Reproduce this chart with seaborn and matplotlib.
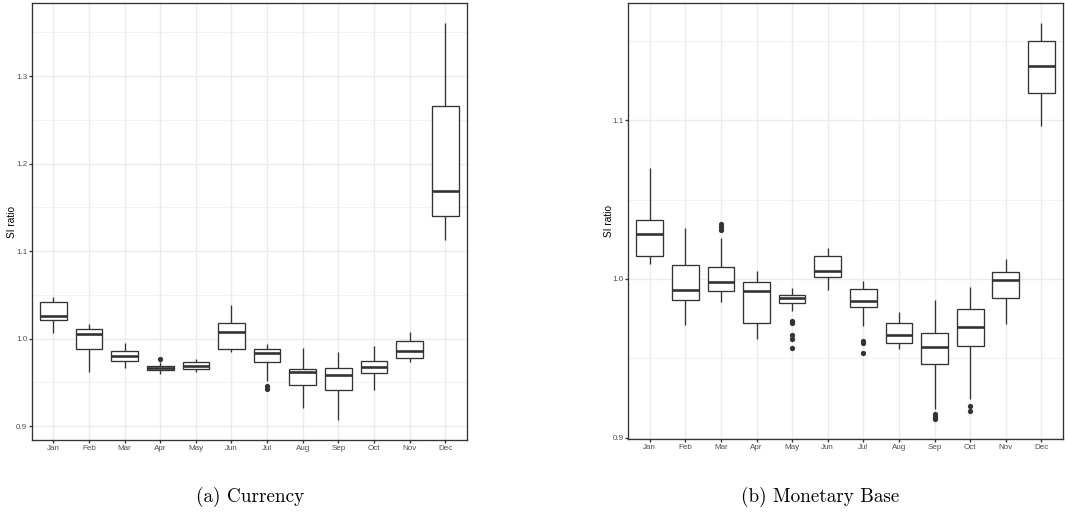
import numpy as np
import pandas as pd
import matplotlib
matplotlib.use("Agg")
import matplotlib.pyplot as plt
from matplotlib.ticker import MultipleLocator, FormatStrFormatter
import seaborn as sns

months = ["Jan", "Feb", "Mar", "Apr", "May", "Jun",
          "Jul", "Aug", "Sep", "Oct", "Nov", "Dec"]

# Five-number summaries per month: lower whisker, Q1, median, Q3, upper whisker
currency_low = [1.0061, 0.9624, 0.9665, 0.9601, 0.9616, 0.9852,
                0.9517, 0.9205, 0.9068, 0.9418, 0.9730, 1.1132]
currency_q1 = [1.0209, 0.9882, 0.9745, 0.9643, 0.9650, 0.9886,
               0.9738, 0.9471, 0.9418, 0.9612, 0.9783, 1.1396]
currency_med = [1.0259, 1.0049, 0.9806, 0.9665, 0.9692, 1.0072,
                0.9837, 0.9620, 0.9589, 0.9677, 0.9863, 1.1682]
currency_q3 = [1.0414, 1.0114, 0.9856, 0.9688, 0.9734, 1.0175,
               0.9886, 0.9658, 0.9665, 0.9749, 0.9970, 1.2661]
currency_high = [1.0475, 1.0163, 0.9947, 0.9734, 0.9768, 1.0384,
                 0.9935, 0.9890, 0.9844, 0.9916, 1.0080, 1.3606]
currency_out_month = ["Apr", "Jul", "Jul"]
currency_out_value = [0.9772, 0.9455, 0.9420]

base_low = [1.0094, 0.9707, 0.9858, 0.9621, 0.9799, 0.9929,
            0.9701, 0.9559, 0.9180, 0.9241, 0.9715, 1.0962]
base_q1 = [1.0146, 0.9868, 0.9923, 0.9724, 0.9849, 1.0013,
           0.9824, 0.9598, 0.9462, 0.9577, 0.9877, 1.1174]
base_med = [1.0285, 0.9931, 0.9983, 0.9923, 0.9881, 1.0052,
            0.9860, 0.9646, 0.9569, 0.9697, 0.9994, 1.1341]
base_q3 = [1.0370, 1.0090, 1.0075, 0.9979, 0.9902, 1.0142,
           0.9935, 0.9722, 0.9659, 0.9810, 1.0046, 1.1498]
base_high = [1.0697, 1.0318, 1.0255, 1.0050, 0.9941, 1.0197,
             0.9985, 0.9789, 0.9868, 0.9950, 1.0126, 1.1611]
base_out_month = ["Mar", "Mar", "Mar", "May", "May", "May", "May", "May",
                  "Jul", "Jul", "Jul", "Sep", "Sep", "Sep", "Oct", "Oct"]
base_out_value = [1.0343, 1.0328, 1.0310, 0.9734, 0.9722, 0.9644, 0.9623, 0.9565,
                  0.9611, 0.9596, 0.9536, 0.9150, 0.9132, 0.9115, 0.9201, 0.9169]

sns.set_theme(style="white")
plt.rcParams["font.family"] = ["Liberation Sans", "DejaVu Sans"]

DARK = "#333333"
GRID = "#EBEBEB"
LW = 0.95


def summary_frame(low, q1, med, q3, high):
    rows = []
    for m, a, b, c, d, e in zip(months, low, q1, med, q3, high):
        for v in (a, b, c, d, e):
            rows.append({"month": m, "value": v})
    return pd.DataFrame(rows)


def draw_panel(ax, low, q1, med, q3, high, out_m, out_v, caption, cap_x):
    df = summary_frame(low, q1, med, q3, high)
    sns.boxplot(data=df, x="month", y="value", order=months, ax=ax,
                whis=np.inf, width=0.75, color="white", linecolor=DARK,
                linewidth=LW, medianprops={"linewidth": 2 * LW, "color": DARK},
                showfliers=False, showcaps=False)
    fl = pd.DataFrame({"month": out_m, "value": out_v})
    sns.stripplot(data=fl, x="month", y="value", order=months, ax=ax,
                  jitter=False, color=DARK, size=3.8, linewidth=0)

    vals = np.concatenate([low, high, out_v])
    lo, hi = vals.min(), vals.max()
    pad = 0.05 * (hi - lo)
    ax.set_ylim(lo - pad, hi + pad)
    ax.set_xlim(-0.6, len(months) - 0.4)

    ax.yaxis.set_major_locator(MultipleLocator(0.1))
    ax.yaxis.set_minor_locator(MultipleLocator(0.05))
    ax.yaxis.set_major_formatter(FormatStrFormatter("%.1f"))
    ax.set_axisbelow(True)
    ax.grid(True, which="major", axis="both", color=GRID, linewidth=LW)
    ax.grid(True, which="minor", axis="y", color=GRID, linewidth=LW / 2)
    ax.tick_params(which="major", direction="out", length=1.9, width=LW,
                   color=DARK, labelsize=5.8, labelcolor="#4D4D4D", pad=1.5,
                   bottom=True, left=True)
    ax.tick_params(which="minor", length=0)
    for sp in ax.spines.values():
        sp.set_visible(True)
        sp.set_color(DARK)
        sp.set_linewidth(LW)
    ax.set_xlabel("")
    ax.set_ylabel("SI ratio", fontsize=7.3, color="black")
    ax.yaxis.set_label_coords(-0.034, 0.5)
    fig.text(cap_x, 0.041, caption, ha="center", va="center",
             fontfamily="cmr10", fontsize=13.8, color="black")


fig = plt.figure(figsize=(10.65, 5.18), dpi=100)
ax1 = fig.add_axes([0.0300, 0.1506, 0.4082, 0.8430])
ax2 = fig.add_axes([0.5900, 0.1519, 0.4079, 0.8417])

draw_panel(ax1, currency_low, currency_q1, currency_med, currency_q3,
           currency_high, currency_out_month, currency_out_value,
           "(a) Currency", 250 / 1065)
draw_panel(ax2, base_low, base_q1, base_med, base_q3, base_high,
           base_out_month, base_out_value, "(b) Monetary Base", 820 / 1065)

fig.savefig("out.png", dpi=100, facecolor="white")
